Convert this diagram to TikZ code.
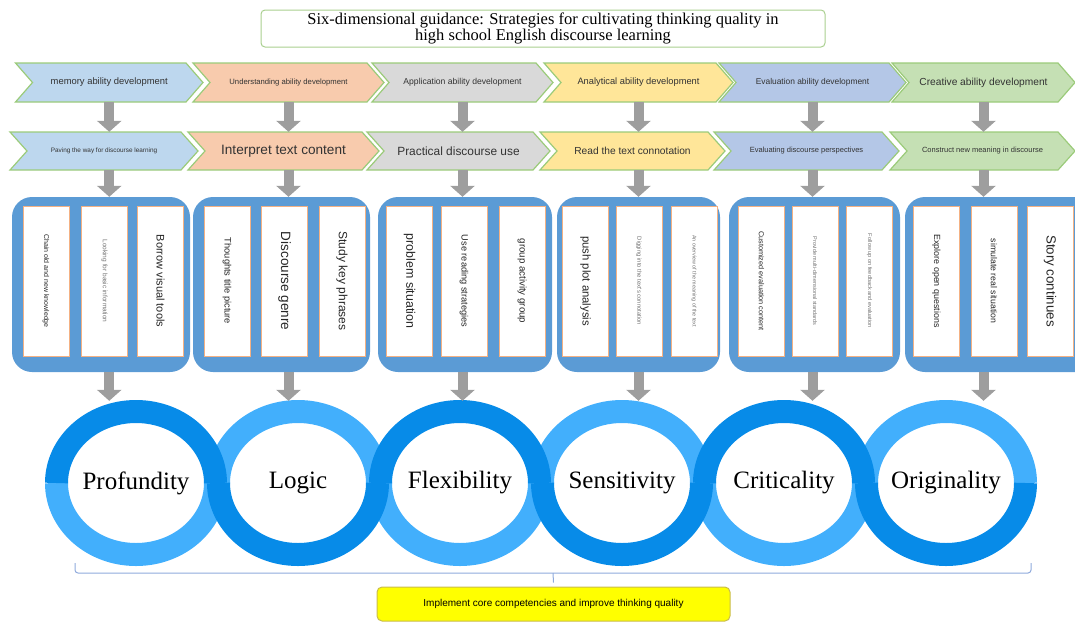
\documentclass[tikz,border=0pt]{standalone}
\usepackage{fontspec}
\setmainfont{Liberation Serif}
\setsansfont{Liberation Sans}
\usetikzlibrary{positioning, calc, arrows.meta}
\definecolor{titlegreen}{HTML}{A9CF8F}
\definecolor{chevgreen}{HTML}{9BCB7A}
\definecolor{memblue}{HTML}{BDD7EE}
\definecolor{undorange}{HTML}{F8CBAD}
\definecolor{appgray}{HTML}{D9D9D9}
\definecolor{anayellow}{HTML}{FFE699}
\definecolor{evalblue}{HTML}{B4C7E7}
\definecolor{creagreen}{HTML}{C5E0B4}
\definecolor{arrowgray}{HTML}{9E9E9E}
\definecolor{boxblue}{HTML}{5B9BD5}
\definecolor{cardedge}{HTML}{F4B183}
\definecolor{darkring}{HTML}{078BE8}
\definecolor{lightring}{HTML}{42AFFC}
\definecolor{bracketblue}{HTML}{8FAADC}
\definecolor{goalyellow}{HTML}{FFFF00}
\definecolor{goaledge}{HTML}{C9BC4C}

\begin{document}
\begin{tikzpicture}[x=1pt,y=1pt,
    chev/.style={draw=chevgreen, line width=1.2pt},
    chevtext/.style={inner sep=0pt, minimum height=39pt, text=black!80},
    groupbox/.style={fill=boxblue, rounded corners=20pt, minimum height=175pt},
    card/.style={draw=cardedge, fill=white, line width=0.8pt, rotate=-90, minimum width=150pt, minimum height=46pt, inner sep=0pt},
    blockarrow/.style={draw=arrowgray, line width=10pt, -{Triangle[width=24pt,length=11pt]}},
    lightarc/.style={draw=lightring, line width=23pt},
    darkarc/.style={draw=darkring, line width=23pt},
    bracket/.style={draw=bracketblue, line width=1pt, rounded corners=3pt}]
    \useasboundingbox (0,0) rectangle (1075,-622);

    \node[draw=titlegreen, line width=1pt, rounded corners=4pt, minimum width=564pt, minimum height=37pt, align=center, inner sep=0pt,
        font=\fontsize{16.5}{14.5}\selectfont] (title) at (543,-28.5)
        {Six-dimensional guidance: Strategies for cultivating thinking quality in\\high school English discourse learning};

    \foreach \n/\l/\r/\c/\s/\t in {a1/15.5/203/memblue/9.4/memory ability development,
        a2/193/384/undorange/7.7/Understanding ability development,
        a3/372/553/appgray/8.6/Application ability development,
        a4/544/733/anayellow/9.3/Analytical ability development,
        a5/719/906/evalblue/8.4/Evaluation ability development,
        a6/892/1075/creagreen/10.2/Creative ability development}{
        \filldraw[chev, fill=\c] (\l,-63) -- (\r-17,-63) -- (\r,-82.5) -- (\r-17,-102) -- (\l,-102) -- (\l+17,-82.5) -- cycle;
        \node[chevtext, font=\sffamily\fontsize{\s}{\s}\selectfont] (\n) at ({(\l+\r)/2},-82.5) {\t};
    }
    \foreach \n/\l/\r/\c/\s/\t in {b1/10/198/memblue/6.4/Paving the way for discourse learning,
        b2/188/379/undorange/13.6/Interpret text content,
        b3/367/550/appgray/11.9/Practical discourse use,
        b4/540/725/anayellow/10.2/Read the text connotation,
        b5/714/899/evalblue/7.5/Evaluating discourse perspectives,
        b6/890/1075/creagreen/7.5/Construct new meaning in discourse}{
        \filldraw[chev, fill=\c] (\l,-132) -- (\r-17,-132) -- (\r,-151) -- (\r-17,-170) -- (\l,-170) -- (\l+17,-151) -- cycle;
        \node[chevtext, minimum height=38pt, font=\sffamily\fontsize{\s}{\s}\selectfont] (\n) at ({(\l+\r)/2},-151) {\t};
    }

    \foreach \n/\x/\w in {g1/101/178, g2/281.5/177, g3/465/174, g4/638.5/163, g5/814.5/171, g6/1000/190}
        \node[groupbox, minimum width=\w pt] (\n) at (\x,-284.5) {};

    \foreach \n/\x/\s/\k/\t in {c11/46/7/black!85/Chain old and new knowledge,
        c12/104.5/6.5/black!55/Looking for basic information,
        c13/160.5/11/black!85/Borrow visual tools,
        c21/227/9.3/black!85/Thoughts title picture,
        c22/284.5/13.5/black!85/Discourse genre,
        c23/342/12/black!85/Study key phrases,
        c31/409.5/12.4/black!85/problem situation,
        c32/464/9.2/black!85/Use reading strategies,
        c33/522/9.7/black!85/group activity group,
        c41/585.5/11.3/black!85/push plot analysis,
        c42/639/5.9/black!55/Digging into the text's connotation,
        c43/694/5.4/black!55/An overview of the meaning of the text,
        c51/761.5/7.3/black!85/Customized evaluation content,
        c52/815/5.5/black!55/Provide multi-dimensional standards,
        c53/869.5/5.6/black!55/Follow up on feedback and evaluation,
        c61/936.5/8.9/black!85/Explore open questions,
        c62/994/8.7/black!85/simulate real situation,
        c63/1050/13.3/black!85/Story continues}
        \node[card, text=\k, font=\sffamily\fontsize{\s}{\s}\selectfont] (\n) at (\x,-281) {\t};

    \foreach \n/\x/\t in {q1/136/Profundity, q2/298/Logic, q3/460/Flexibility, q4/622/Sensitivity, q5/784/Criticality, q6/946/Originality}
        \node[minimum width=184pt, minimum height=164pt, font=\fontsize{25}{25}\selectfont] (\n) at (\x,-483) {\t};
    \foreach \i/\l in {1/180, 2/0, 3/180, 4/0, 5/180, 6/0}
        \draw[lightarc] ([shift={(\l:79.5 and 71.5)}]q\i.center) arc[start angle=\l, delta angle=180, x radius=79.5, y radius=71.5];
    \foreach \i/\l in {1/180, 2/0, 3/180, 4/0, 5/180, 6/0}
        \draw[darkarc] ([shift={(\l+180:79.5 and 71.5)}]q\i.center) arc[start angle=\l+180, delta angle=180, x radius=79.5, y radius=71.5];

    \foreach \i in {1,...,6}{
        \draw[blockarrow] (a\i.south) -- (a\i.south |- b\i.north);
        \draw[blockarrow] (a\i.south |- b\i.south) -- (a\i.south |- g\i.north);
        \draw[blockarrow] (a\i.south |- g\i.south) -- (a\i.south |- q\i.north);
    }

    \node[draw=goaledge, fill=goalyellow, line width=1pt, rounded corners=5pt, minimum width=353pt, minimum height=34pt,
        font=\sffamily\fontsize{10}{10}\selectfont] (goal) at (553.5,-604) {Implement core competencies and improve thinking quality};
    \coordinate (bl) at (75,-563);
    \coordinate (br) at (1031,-563);
    \coordinate (bm) at (553,-573);
    \draw[bracket] (bl) |- (bm) -| (br);
    \draw[bracket] (bm) -- ([yshift=4pt]goal.north);
\end{tikzpicture}
\end{document}
